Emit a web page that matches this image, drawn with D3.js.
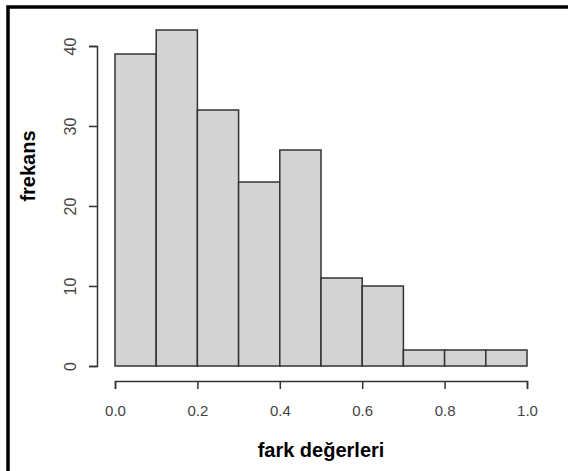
<!DOCTYPE html>
<html>
<head>
<meta charset="utf-8">
<script src="https://cdn.jsdelivr.net/npm/d3@7"></script>
<style>
  body { margin: 0; background: #fff; }
  text { font-family: "Liberation Sans", Arial, sans-serif; }
</style>
</head>
<body>
<div class="container"></div>
<script>
const binEdges = [0.0, 0.1, 0.2, 0.3, 0.4, 0.5, 0.6, 0.7, 0.8, 0.9, 1.0]
const counts = [39, 42, 32, 23, 27, 11, 10, 2, 2, 2]
const xTicks = [0.0, 0.2, 0.4, 0.6, 0.8, 1.0]
const yTicks = [0, 10, 20, 30, 40]

const width = 568
const height = 471

const svg = d3.select('.container')
    .append('svg')
    .attr('width', width)
    .attr('height', height)

const x = d3.scaleLinear().domain([0, 1]).range([115, 527])
const y = d3.scaleLinear().domain([0, 40]).range([366, 46])

const bins = counts.map((c, i) => ({x0: binEdges[i], x1: binEdges[i + 1], n: c}))

// bars
svg.selectAll('rect.bar')
    .data(bins)
    .join('rect')
    .attr('class', 'bar')
    .attr('x', d => x(d.x0))
    .attr('y', d => y(d.n))
    .attr('width', d => x(d.x1) - x(d.x0))
    .attr('height', d => y(0) - y(d.n))
    .attr('fill', '#d3d3d3')
    .attr('stroke', '#333')
    .attr('stroke-width', 1.5)

// x axis
const xAxis = svg.append('g')
    .attr('transform', 'translate(0,381)')
    .call(d3.axisBottom(x).tickValues(xTicks).tickFormat(d3.format('.1f')).tickSize(8).tickPadding(16))
xAxis.select('.domain').attr('stroke', '#333').attr('stroke-width', 1.5)
xAxis.selectAll('.tick line').attr('stroke', '#333').attr('stroke-width', 1.5)
xAxis.selectAll('.tick text')
    .attr('fill', '#444')
    .style('font-size', '15px')

// y axis
const yAxis = svg.append('g')
    .attr('transform', 'translate(97,0)')
    .call(d3.axisLeft(y).tickValues(yTicks).tickSize(8))
yAxis.select('.domain').attr('stroke', '#333').attr('stroke-width', 1.5)
yAxis.selectAll('.tick line').attr('stroke', '#333').attr('stroke-width', 1.5)
yAxis.selectAll('.tick text')
    .attr('x', null).attr('dy', null)
    .attr('fill', '#444')
    .attr('text-anchor', 'middle')
    .attr('transform', 'translate(-27,0) rotate(-90)')
    .attr('dominant-baseline', 'central')
    .style('font-size', '16px')

// axis titles
svg.append('text')
    .attr('x', (x(0) + x(1)) / 2)
    .attr('y', 457)
    .attr('text-anchor', 'middle')
    .style('font-size', '20px')
    .style('font-weight', 'bold')
    .text('fark değerleri')

svg.append('text')
    .attr('transform', 'translate(35,166) rotate(-90)')
    .attr('text-anchor', 'middle')
    .style('font-size', '20px')
    .style('font-weight', 'bold')
    .text('frekans')

// frame (left and top edges)
svg.append('path')
    .attr('d', `M8,${height} L8,7 L${width},7`)
    .attr('fill', 'none')
    .attr('stroke', '#000')
    .attr('stroke-width', 3.5)
</script>
</body>
</html>
